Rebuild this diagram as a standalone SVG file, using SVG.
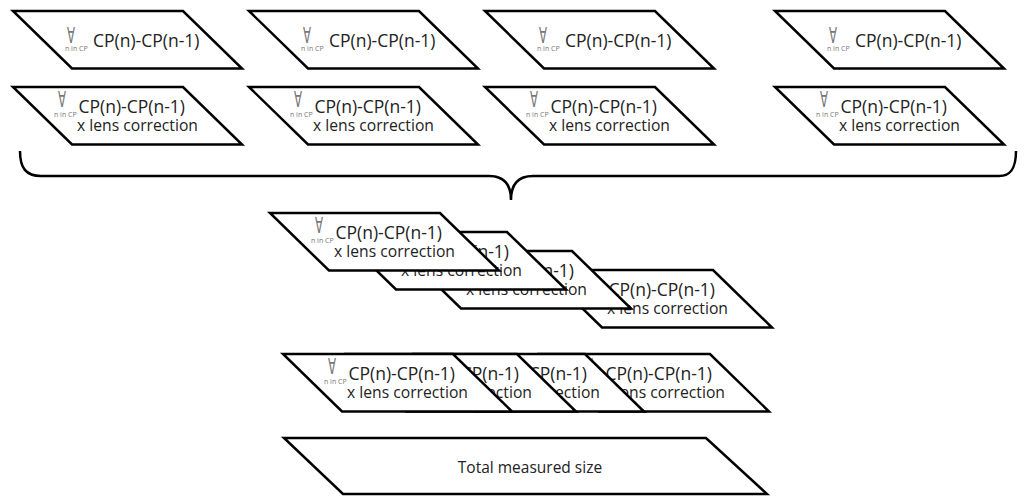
<svg xmlns="http://www.w3.org/2000/svg" width="1024" height="496" viewBox="0 0 1024 496">
<style>
.pg{fill:#fff;stroke:#000;stroke-width:2.5;stroke-linejoin:miter}
.br{fill:none;stroke:#000;stroke-width:2.5}
.cp{font-family:"Open Sans","Noto Sans",sans-serif;font-size:17.5px;fill:#222}
.ln{font-family:"Open Sans","Noto Sans",sans-serif;font-size:15.7px;fill:#222}
.tt{font-family:"Open Sans","Noto Sans",sans-serif;font-size:15.5px;fill:#222;text-anchor:middle}
.fa{font-family:"DejaVu Sans",sans-serif;font-size:22px;fill:#777}
.sb{font-family:"Open Sans","Noto Sans",sans-serif;font-size:7px;fill:#777}
</style>
<defs>
<polygon id="shape" class="pg" points="0,0 170,0 229,57.5 59,57.5"/>
</defs>

<g id="top1" transform="translate(13,11)"><use href="#shape"/><text class="fa" x="54" y="32" textLength="8" lengthAdjust="spacingAndGlyphs">∀</text><text class="sb" x="52" y="40">n in CP</text><text class="cp" x="80" y="36">CP(n)-CP(n-1)</text></g>
<g id="top2" transform="translate(249,11)"><use href="#shape"/><text class="fa" x="54" y="32" textLength="8" lengthAdjust="spacingAndGlyphs">∀</text><text class="sb" x="52" y="40">n in CP</text><text class="cp" x="80" y="36">CP(n)-CP(n-1)</text></g>
<g id="top3" transform="translate(485,11)"><use href="#shape"/><text class="fa" x="54" y="32" textLength="8" lengthAdjust="spacingAndGlyphs">∀</text><text class="sb" x="52" y="40">n in CP</text><text class="cp" x="80" y="36">CP(n)-CP(n-1)</text></g>
<g id="top4" transform="translate(775,11)"><use href="#shape"/><text class="fa" x="54" y="32" textLength="8" lengthAdjust="spacingAndGlyphs">∀</text><text class="sb" x="52" y="40">n in CP</text><text class="cp" x="80" y="36">CP(n)-CP(n-1)</text></g>

<g id="lens1" transform="translate(13,87)"><use href="#shape"/><text class="fa" x="45" y="20" textLength="8" lengthAdjust="spacingAndGlyphs">∀</text><text class="sb" x="41" y="30">n in CP</text><text class="cp" x="65.5" y="25.5">CP(n)-CP(n-1)</text><text class="ln" x="64" y="44">x lens correction</text></g>
<g id="lens2" transform="translate(249,87)"><use href="#shape"/><text class="fa" x="45" y="20" textLength="8" lengthAdjust="spacingAndGlyphs">∀</text><text class="sb" x="41" y="30">n in CP</text><text class="cp" x="65.5" y="25.5">CP(n)-CP(n-1)</text><text class="ln" x="64" y="44">x lens correction</text></g>
<g id="lens3" transform="translate(485,87)"><use href="#shape"/><text class="fa" x="45" y="20" textLength="8" lengthAdjust="spacingAndGlyphs">∀</text><text class="sb" x="41" y="30">n in CP</text><text class="cp" x="65.5" y="25.5">CP(n)-CP(n-1)</text><text class="ln" x="64" y="44">x lens correction</text></g>
<g id="lens4" transform="translate(775,87)"><use href="#shape"/><text class="fa" x="45" y="20" textLength="8" lengthAdjust="spacingAndGlyphs">∀</text><text class="sb" x="41" y="30">n in CP</text><text class="cp" x="65.5" y="25.5">CP(n)-CP(n-1)</text><text class="ln" x="64" y="44">x lens correction</text></g>

<g id="connectors">
<path class="br" d="M20,151 C20,168 26,176 41,176 L489,176 C504,176 511,185 511,200 C511,185 518,176 533,176 L999,176 C1011,176 1016,168 1016,151"/>
</g>

<g id="stackD" transform="translate(543,270)"><use href="#shape"/><text class="fa" x="45" y="20" textLength="8" lengthAdjust="spacingAndGlyphs">∀</text><text class="sb" x="41" y="30">n in CP</text><text class="cp" x="65.5" y="25.5">CP(n)-CP(n-1)</text><text class="ln" x="64" y="44">x lens correction</text></g>
<g id="stackC" transform="translate(402,251)"><use href="#shape"/><text class="fa" x="45" y="20" textLength="8" lengthAdjust="spacingAndGlyphs">∀</text><text class="sb" x="41" y="30">n in CP</text><text class="cp" x="65.5" y="25.5">CP(n)-CP(n-1)</text><text class="ln" x="64" y="44">x lens correction</text></g>
<g id="stackB" transform="translate(337,232)"><use href="#shape"/><text class="fa" x="45" y="20" textLength="8" lengthAdjust="spacingAndGlyphs">∀</text><text class="sb" x="41" y="30">n in CP</text><text class="cp" x="65.5" y="25.5">CP(n)-CP(n-1)</text><text class="ln" x="64" y="44">x lens correction</text></g>
<g id="stackA" transform="translate(270,213)"><use href="#shape"/><text class="fa" x="45" y="20" textLength="8" lengthAdjust="spacingAndGlyphs">∀</text><text class="sb" x="41" y="30">n in CP</text><text class="cp" x="65.5" y="25.5">CP(n)-CP(n-1)</text><text class="ln" x="64" y="44">x lens correction</text></g>

<g id="rowE4" transform="translate(540,354)"><use href="#shape"/><text class="fa" x="45" y="20" textLength="8" lengthAdjust="spacingAndGlyphs">∀</text><text class="sb" x="41" y="30">n in CP</text><text class="cp" x="65.5" y="25.5">CP(n)-CP(n-1)</text><text class="ln" x="64" y="44">x lens correction</text></g>
<g id="rowE3" transform="translate(415,354)"><use href="#shape"/><text class="fa" x="45" y="20" textLength="8" lengthAdjust="spacingAndGlyphs">∀</text><text class="sb" x="41" y="30">n in CP</text><text class="cp" x="65.5" y="25.5">CP(n)-CP(n-1)</text><text class="ln" x="64" y="44">x lens correction</text></g>
<g id="rowE2" transform="translate(347,354)"><use href="#shape"/><text class="fa" x="45" y="20" textLength="8" lengthAdjust="spacingAndGlyphs">∀</text><text class="sb" x="41" y="30">n in CP</text><text class="cp" x="65.5" y="25.5">CP(n)-CP(n-1)</text><text class="ln" x="64" y="44">x lens correction</text></g>
<g id="rowE1" transform="translate(283,354)"><use href="#shape"/><text class="fa" x="45" y="20" textLength="8" lengthAdjust="spacingAndGlyphs">∀</text><text class="sb" x="41" y="30">n in CP</text><text class="cp" x="65.5" y="25.5">CP(n)-CP(n-1)</text><text class="ln" x="64" y="44">x lens correction</text></g>

<g id="total"><polygon class="pg" points="284,438 706,438 767,494 343,494"/><text class="tt" x="530" y="473">Total measured size</text></g>
</svg>
